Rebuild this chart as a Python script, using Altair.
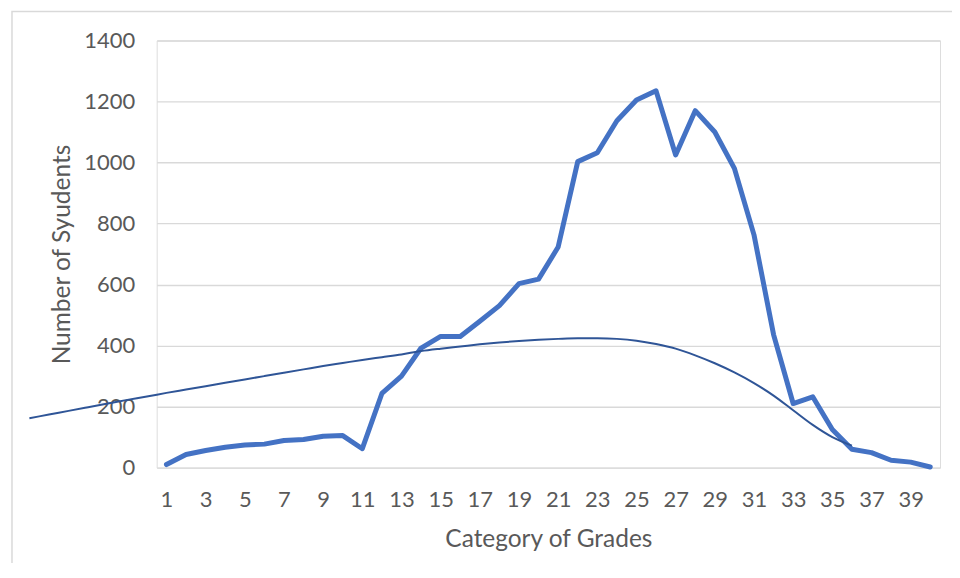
import altair as alt
import pandas as pd

# Main series: number of students per grade category
categories = list(range(1, 41))
students = [10, 43, 56, 67, 74, 77, 89, 92, 103, 105,
            62, 243, 300, 392, 430, 430, 480, 531, 603, 618,
            723, 1003, 1032, 1137, 1205, 1235, 1025, 1170, 1100, 981,
            763, 436, 210, 232, 125, 60, 49, 24, 18, 2]

# Polynomial trendline, incl. backward forecast
trend_x = list(range(-6, 37))
trend_y = [162, 174, 186, 198, 210, 222, 233, 245, 256, 267,
           278, 289, 300, 311, 322, 333, 343, 353, 362, 371,
           382, 390, 397, 404, 410, 415, 419, 422, 424, 424,
           422, 416, 405, 390, 368, 342, 312, 277, 236, 188,
           140, 100, 72]

y_ticks = [0, 200, 400, 600, 800, 1000, 1200, 1400]
x_ticks = list(range(1, 40, 2))

FONT = "Lato"
TXT = "#595959"
GRID = "#d9d9d9"

df = pd.DataFrame({"cat": categories, "n": students})
dt = pd.DataFrame({"cat": trend_x, "n": trend_y})

xscale = alt.Scale(domain=[0.5, 40.5], nice=False, zero=False)
yscale = alt.Scale(domain=[0, 1400], nice=False)

xaxis = alt.Axis(values=x_ticks, grid=False, domain=False, ticks=False,
                 format="d",
                 labelPadding=32, labelBaseline="middle", labelFontSize=22,
                 labelFont=FONT, labelColor=TXT, title="Category of Grades",
                 titleFont=FONT, titleFontSize=24.5, titleColor=TXT,
                 titleFontWeight="normal", titleY=72, titleBaseline="middle")
yaxis = alt.Axis(values=y_ticks, grid=True, gridColor=GRID, gridWidth=1.3,
                 format="d",
                 domain=False, ticks=False, labelPadding=22, labelFontSize=22,
                 labelFont=FONT, labelColor=TXT, title="Number of Syudents",
                 titleFont=FONT, titleFontSize=24.5, titleColor=TXT,
                 titleFontWeight="normal", titleX=-94, titleY=214,
                 titleAngle=-90, titleAlign="center", titleBaseline="middle")

frame = alt.Chart(pd.DataFrame({"a": [0]})).mark_rect(
    fillOpacity=0, stroke=GRID, strokeWidth=1.5, clip=False
).encode(x=alt.value(-145), x2=alt.value(900), y=alt.value(-29), y2=alt.value(700))

main = alt.Chart(df).mark_line(
    color="#4472C4", strokeWidth=5, strokeCap="round", strokeJoin="round"
).encode(
    x=alt.X("cat:Q", scale=xscale, axis=xaxis),
    y=alt.Y("n:Q", scale=yscale, axis=yaxis),
)

trend = alt.Chart(dt).mark_line(
    color="#2F5597", strokeWidth=2, interpolate="monotone", clip=False
).encode(
    x=alt.X("cat:Q", scale=xscale),
    y=alt.Y("n:Q", scale=yscale),
)

chart = alt.layer(frame, main, trend).properties(
    width=785, height=428,
    padding={"left": 149, "top": 32, "right": 12, "bottom": 95},
    autosize=alt.AutoSizeParams(type="none"),
).configure_view(stroke=None).configure(background="white")

chart.save("out.html", embed_options={"renderer": "svg", "actions": False})
